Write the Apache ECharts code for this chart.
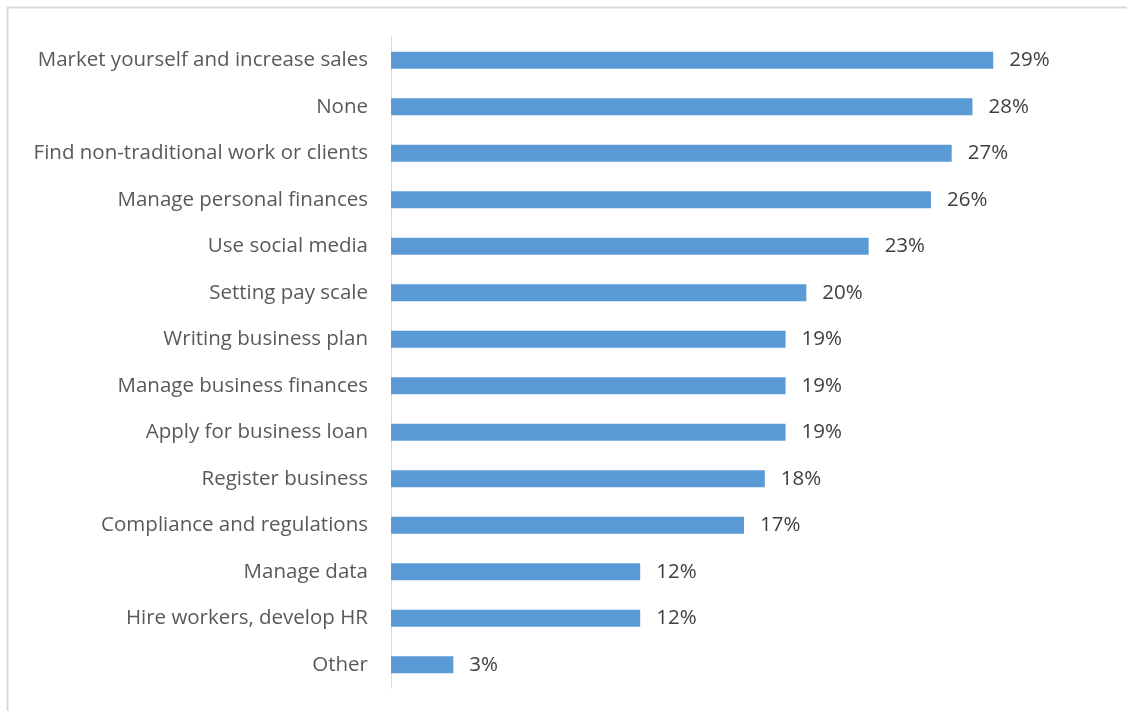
<!DOCTYPE html>
<html>
<head>
<meta charset="utf-8">
<script src="https://cdn.jsdelivr.net/npm/echarts@6/dist/echarts.min.js"></script>
<style>
  html, body { margin: 0; padding: 0; background: #fff; }
  #chart { width: 1127px; height: 711px; }
</style>
</head>
<body>
<div id="chart"></div>
<script>
// Skills respondents would like help with, percent of responses
const categories = [
  'Market yourself and increase sales',
  'None',
  'Find non-traditional work or clients',
  'Manage personal finances',
  'Use social media',
  'Setting pay scale',
  'Writing business plan',
  'Manage business finances',
  'Apply for business loan',
  'Register business',
  'Compliance and regulations',
  'Manage data',
  'Hire workers, develop HR',
  'Other'
];
const shares = [29, 28, 27, 26, 23, 20, 19, 19, 19, 18, 17, 12, 12, 3];

const FONT = '"Open Sans", Lato, sans-serif';
const chart = echarts.init(document.getElementById('chart'), null, { renderer: 'canvas' });

chart.setOption({
  animation: false,
  backgroundColor: '#ffffff',
  graphic: [{
    type: 'rect',
    shape: { x: 7.5, y: 7.5, width: 1300, height: 900 },
    style: { fill: 'none', stroke: '#d9d9d9', lineWidth: 2 },
    silent: true
  }],
  grid: { left: 391, top: 37, height: 651, width: 623 },
  xAxis: {
    type: 'value',
    min: 0,
    max: 30,
    show: false
  },
  yAxis: {
    type: 'category',
    data: categories,
    inverse: true,
    axisLine: { show: true, lineStyle: { color: '#d9d9d9', width: 1 } },
    axisTick: { show: false },
    axisLabel: {
      margin: 23,
      color: '#595959',
      fontSize: 20.5,
      fontFamily: FONT
    }
  },
  series: [{
    type: 'bar',
    data: shares,
    barWidth: 17,
    itemStyle: { color: '#5b9bd5' },
    label: {
      show: true,
      position: 'right',
      distance: 16,
      formatter: p => p.value + '%',
      color: '#404040',
      fontSize: 20.5,
      fontFamily: FONT
    }
  }]
});
</script>
</body>
</html>
